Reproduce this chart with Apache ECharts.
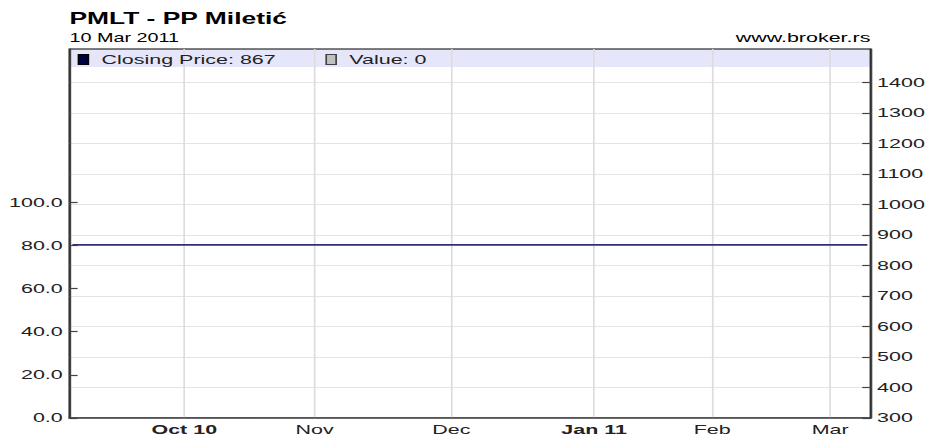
<!DOCTYPE html>
<html>
<head>
<meta charset="utf-8">
<script src="https://cdn.jsdelivr.net/npm/echarts@6/dist/echarts.min.js"></script>
<style>
html,body{margin:0;padding:0;background:#fff;overflow:hidden;}
#c{width:560px;height:439px;transform:scaleX(1.651786);transform-origin:0 0;}
</style>
</head>
<body>
<div id="c"></div>
<script>
// Trading days (day-of-month) per month
const daysSep2010 = [7,8,9,10,13,14,15,16,17,20,21,22,23,24,27,28,29,30];
const daysOct2010 = [1,4,5,6,7,8,11,12,13,14,15,18,19,20,21,22,25,26,27,28,29];
const daysNov2010 = [1,2,3,4,5,8,9,10,11,12,15,16,17,18,19,22,23,24,25,26,29,30];
const daysDec2010 = [1,2,3,6,7,8,9,10,13,14,15,16,17,20,21,22,23,24,27,28,29,30,31];
const daysJan2011 = [4,5,6,10,11,12,13,14,17,18,19,20,21,24,25,26,27,28,31];
const daysFeb2011 = [1,2,3,4,7,8,9,10,11,14,16,17,18,21,22,23,24,25,28];
const daysMar2011 = [1,2,3,4,7,8,9];

// Closing price per trading day (flat at 867)
const closingPrice = [
  867,867,867,867,867, 867,867,867,867,867, 867,867,867,867,867, 867,867,867,            // Sep (18)
  867,867,867,867,867, 867,867,867,867,867, 867,867,867,867,867, 867,867,867,867,867, 867, // Oct (21)
  867,867,867,867,867, 867,867,867,867,867, 867,867,867,867,867, 867,867,867,867,867, 867,867, // Nov (22)
  867,867,867,867,867, 867,867,867,867,867, 867,867,867,867,867, 867,867,867,867,867, 867,867,867, // Dec (23)
  867,867,867,867,867, 867,867,867,867,867, 867,867,867,867,867, 867,867,867,867,        // Jan (19)
  867,867,867,867,867, 867,867,867,867,867, 867,867,867,867,867, 867,867,867,867,        // Feb (19)
  867,867,867,867,867, 867,867                                                          // Mar (7)
];
// Traded value per day (all zero)
const tradedValue = [
  0,0,0,0,0, 0,0,0,0,0, 0,0,0,0,0, 0,0,0,
  0,0,0,0,0, 0,0,0,0,0, 0,0,0,0,0, 0,0,0,0,0, 0,
  0,0,0,0,0, 0,0,0,0,0, 0,0,0,0,0, 0,0,0,0,0, 0,0,
  0,0,0,0,0, 0,0,0,0,0, 0,0,0,0,0, 0,0,0,0,0, 0,0,0,
  0,0,0,0,0, 0,0,0,0,0, 0,0,0,0,0, 0,0,0,0,
  0,0,0,0,0, 0,0,0,0,0, 0,0,0,0,0, 0,0,0,0,
  0,0,0,0,0, 0,0
];

const monthTickDates = ['2010-10-01','2010-11-01','2010-12-01','2011-01-04','2011-02-01','2011-03-01'];
const monthTickLabels = ['Oct 10','Nov','Dec','Jan 11','Feb','Mar'];
const boldLabels = ['Oct 10','Jan 11'];
const leftTicks = [0,20,40,60,80,100];
const rightTicks = [300,400,500,600,700,800,900,1000,1100,1200,1300,1400];

function pad(n){return (n<10?'0':'')+n;}
const categories = [].concat(
  daysSep2010.map(d=>'2010-09-'+pad(d)),
  daysOct2010.map(d=>'2010-10-'+pad(d)),
  daysNov2010.map(d=>'2010-11-'+pad(d)),
  daysDec2010.map(d=>'2010-12-'+pad(d)),
  daysJan2011.map(d=>'2011-01-'+pad(d)),
  daysFeb2011.map(d=>'2011-02-'+pad(d)),
  daysMar2011.map(d=>'2011-03-'+pad(d))
);
const tickIdx = monthTickDates.map(d=>categories.indexOf(d));
const isTick = (i)=>tickIdx.indexOf(i) >= 0;
const legendValues = {
  'Closing Price': closingPrice[closingPrice.length-1],
  'Value': tradedValue[tradedValue.length-1]
};

const chart = echarts.init(document.getElementById('c'), null, {renderer:'svg'});
const FONT = 'Liberation Sans, Arial, sans-serif';
chart.setOption({
  animation:false,
  textStyle:{fontFamily:FONT},
  title:[
    {text:'PMLT - PP Miletić', left:42, top:10, padding:0,
     textStyle:{fontSize:16, fontWeight:'bold', color:'#000', fontFamily:FONT}},
    {text:'10 Mar 2011', left:42, top:32, padding:0,
     textStyle:{fontSize:12, fontWeight:'normal', color:'#000', fontFamily:FONT}},
    {text:'www.broker.rs', right:33, top:31, padding:0,
     textStyle:{fontSize:13, fontWeight:'normal', color:'#000', fontFamily:FONT}}
  ],
  legend:{
    left:47, top:52, padding:0, itemWidth:6, itemHeight:10, itemGap:30, icon:'rect',
    selectedMode:false,
    textStyle:{fontSize:13, color:'#222', lineHeight:15, padding:[0,0,0,3], fontFamily:FONT},
    formatter:(n)=>n+': '+legendValues[n],
    data:[
      {name:'Closing Price', itemStyle:{color:'#000040', borderColor:'#000', borderWidth:1}},
      {name:'Value', itemStyle:{color:'#c0c0c0', borderColor:'#404040', borderWidth:1}}
    ]
  },
  graphic:[
    {type:'rect', z:-1, silent:true, shape:{x:42, y:49, width:485, height:18}, style:{fill:'#e6e6fa'}}
  ],
  grid:{left:42, right:33, top:49, bottom:21, show:true, borderColor:'#000', borderWidth:1,
        backgroundColor:'transparent', containLabel:false, outerBoundsMode:'none'},
  xAxis:{
    type:'category', data:categories, boundaryGap:true,
    axisLine:{lineStyle:{color:'#444', width:1.5}},
    axisTick:{alignWithLabel:true, interval:isTick, length:3, lineStyle:{color:'#444', width:1}},
    axisLabel:{
      interval:isTick, margin:5, fontSize:13, color:'#222', fontFamily:FONT,
      formatter:(v)=>{
        const lab = monthTickLabels[monthTickDates.indexOf(v)] || '';
        return boldLabels.indexOf(lab) >= 0 ? '{b|'+lab+'}' : lab;
      },
      rich:{b:{fontWeight:'bold', fontSize:13, color:'#222', fontFamily:FONT}}
    },
    splitLine:{show:true, interval:isTick, alignWithLabel:true, lineStyle:{color:'#dcdcdc', width:1}}
  },
  yAxis:[
    {
      type:'value', position:'left', min:0, max:171, interval:20,
      axisLine:{show:true, lineStyle:{color:'#444', width:1.2}},
      axisTick:{show:true, inside:true, length:5, customValues:leftTicks, lineStyle:{color:'#444', width:1.2}},
      axisLabel:{customValues:leftTicks, formatter:(v)=>Number(v).toFixed(1), margin:4, fontSize:13, color:'#222', fontFamily:FONT},
      splitLine:{show:false}
    },
    {
      type:'value', position:'right', min:300, max:1509, interval:100,
      axisLine:{show:true, lineStyle:{color:'#444', width:1.2}},
      axisTick:{show:true, inside:true, length:5, customValues:rightTicks, lineStyle:{color:'#444', width:1.2}},
      axisLabel:{customValues:rightTicks, formatter:(v)=>String(v), margin:4, fontSize:13, color:'#222', fontFamily:FONT},
      splitLine:{show:true, lineStyle:{color:'#e4e4e4', width:1}}
    }
  ],
  series:[
    {name:'Closing Price', type:'line', yAxisIndex:1, data:closingPrice, showSymbol:false,
     lineStyle:{color:'#303070', width:1.8}, itemStyle:{color:'#000040'}},
    {name:'Value', type:'bar', yAxisIndex:0, data:tradedValue, itemStyle:{color:'#c0c0c0'}}
  ]
});
</script>
</body>
</html>
